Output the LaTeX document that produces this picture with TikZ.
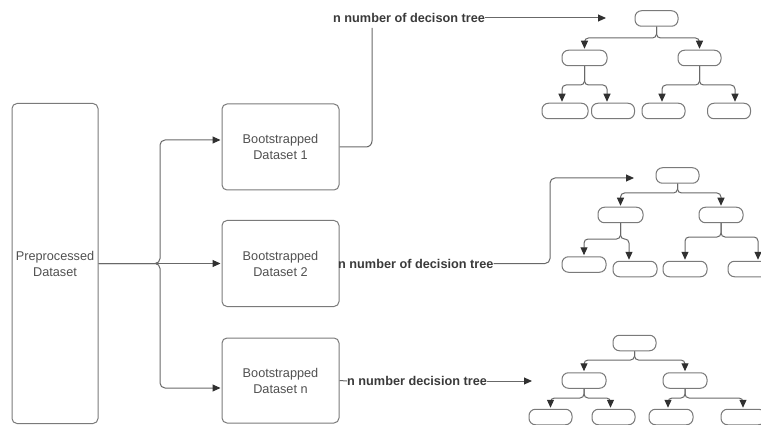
\documentclass[tikz,border=0pt]{standalone}
\usepackage{fontspec}
\setmainfont{Liberation Sans}
\usetikzlibrary{arrows.meta}

\definecolor{boxline}{HTML}{7A7A7A}
\definecolor{linec}{HTML}{686868}
\definecolor{tipc}{HTML}{303030}
\definecolor{boxtext}{HTML}{505050}
\definecolor{labtext}{HTML}{3A3A3A}

% parent-to-child link of a tree: down, across at height #3, down into #2
\newcommand\treelink[3]{\draw[arr, rounded corners=4pt] (#1.south) |- (#2 |- 0,#3) -- (#2);}

\begin{document}
\begin{tikzpicture}[x=1pt, y=-1pt,
  box/.style={draw=boxline, line width=1pt, rounded corners=5pt, align=center,
    font=\fontsize{12.7}{16}\selectfont, text=boxtext, inner sep=0pt},
  leaf/.style={draw=boxline, line width=1pt, rounded corners=6.5pt,
    minimum height=15.5pt, minimum width=43pt, inner sep=0pt},
  link/.style={draw=linec, line width=1pt},
  arr/.style={link, -{Triangle[length=8pt, width=7pt, color=tipc]}, shorten >=1pt},
  lab/.style={font=\bfseries\fontsize{12.7}{15}\selectfont, text=labtext, inner sep=0pt}
]
\useasboundingbox (0,0) rectangle (761,425);
\clip (0,0) rectangle (761,425);

% datasets
\node[box, minimum width=86pt, minimum height=320pt] (pre) at (55,263.5) {Preprocessed\\Dataset};
\node[box, minimum width=117pt, minimum height=86pt] (b1) at (280.5,147) {Bootstrapped\\Dataset 1};
\node[box, minimum width=117pt, minimum height=86pt] (b2) at (280.5,263.5) {Bootstrapped\\Dataset 2};
\node[box, minimum width=117pt, minimum height=85pt] (bn) at (280.5,380.5) {Bootstrapped\\Dataset n};

\coordinate (b1in) at ([yshift=7pt]b1.west);
\coordinate (bnin) at ([yshift=-7.5pt]bn.west);

\draw[arr, rounded corners=5pt] (pre.east) -| (b1in -| 160,0) -- (b1in);
\draw[arr] (pre.east) -- (b2.west);
\draw[arr, rounded corners=5pt] (pre.east) -| (bnin -| 160,0) -- (bnin);

% labels and links to the forests
\node[lab, anchor=west] (lab1) at (333,18) {n number of decison tree};
\node[lab, anchor=west] (lab2) at (338,263.5) {n number of decision tree};
\node[lab, anchor=west] (lab3) at (347,381) {n number decision tree};

\coordinate (t1up) at (372,28);
\coordinate (t1tip) at (607,18);
\coordinate (t2tip) at (635,178);
\coordinate (t3tip) at (533,381);

\draw[link, rounded corners=6pt] (b1.east) -| (t1up);
\draw[arr] (lab1.east) -- (t1tip);
\draw[arr, rounded corners=5pt] (lab2.east) -- (lab2.east -| 550,0) |- (t2tip);
\draw[link] (bn.east) -- (lab3.west);
\draw[arr] (lab3.east) -- (t3tip);

% tree 1
\node[leaf] (t1r) at (656.5,18.5) {};
\node[leaf, minimum width=45pt] (t1a) at (584.5,58) {};
\node[leaf] (t1b) at (699.5,58) {};
\node[leaf, minimum width=46pt] (t1aa) at (565,111) {};
\node[leaf] (t1ab) at (613,111) {};
\node[leaf] (t1ba) at (663.5,111) {};
\node[leaf] (t1bb) at (729,111) {};
\coordinate (e1aa) at ([xshift=-3pt]t1aa.north);
\coordinate (e1ab) at ([xshift=-6pt]t1ab.north);
\coordinate (e1ba) at ([xshift=-1.5pt]t1ba.north);
\coordinate (e1bb) at ([xshift=6pt]t1bb.north);
\treelink{t1r}{t1a.north}{38}
\treelink{t1r}{t1b.north}{38}
\treelink{t1a}{e1aa}{85}
\treelink{t1a}{e1ab}{85}
\treelink{t1b}{e1ba}{85}
\treelink{t1b}{e1bb}{85}

% tree 2
\node[leaf] (t2r) at (677.5,175.5) {};
\node[leaf, minimum width=45pt] (t2a) at (620.5,215) {};
\node[leaf, minimum width=44pt] (t2b) at (721,215) {};
\node[leaf, minimum width=44pt] (t2aa) at (584,264.5) {};
\node[leaf, minimum width=44pt] (t2ab) at (635,269) {};
\node[leaf, minimum width=44pt] (t2ba) at (685,269) {};
\node[leaf, minimum width=44pt] (t2bb) at (750,269) {};
\coordinate (e2ab) at ([xshift=-6pt]t2ab.north);
\coordinate (e2bb) at ([xshift=8pt]t2bb.north);
\treelink{t2r}{t2a.north}{193}
\treelink{t2r}{t2b.north}{193}
\treelink{t2a}{t2aa.north}{239}
\treelink{t2a}{e2ab}{239}
\treelink{t2b}{t2ba.north}{237}
\treelink{t2b}{e2bb}{237}

% tree 3
\node[leaf] (t3r) at (634.5,343) {};
\node[leaf, minimum width=44pt] (t3a) at (584,380.5) {};
\node[leaf, minimum width=44pt] (t3b) at (685,380.5) {};
\node[leaf] (t3aa) at (550.5,417) {};
\node[leaf] (t3ab) at (613.5,417) {};
\node[leaf, minimum width=44pt] (t3ba) at (671,417) {};
\node[leaf, minimum width=44pt] (t3bb) at (743,417) {};
\coordinate (e3ab) at ([xshift=-3pt]t3ab.north);
\coordinate (e3ba) at ([xshift=-3pt]t3ba.north);
\treelink{t3r}{t3a.north}{360}
\treelink{t3r}{t3b.north}{360}
\treelink{t3a}{t3aa.north}{398}
\treelink{t3a}{e3ab}{398}
\treelink{t3b}{e3ba}{398}
\treelink{t3b}{t3bb.north}{398}
\end{tikzpicture}
\end{document}
